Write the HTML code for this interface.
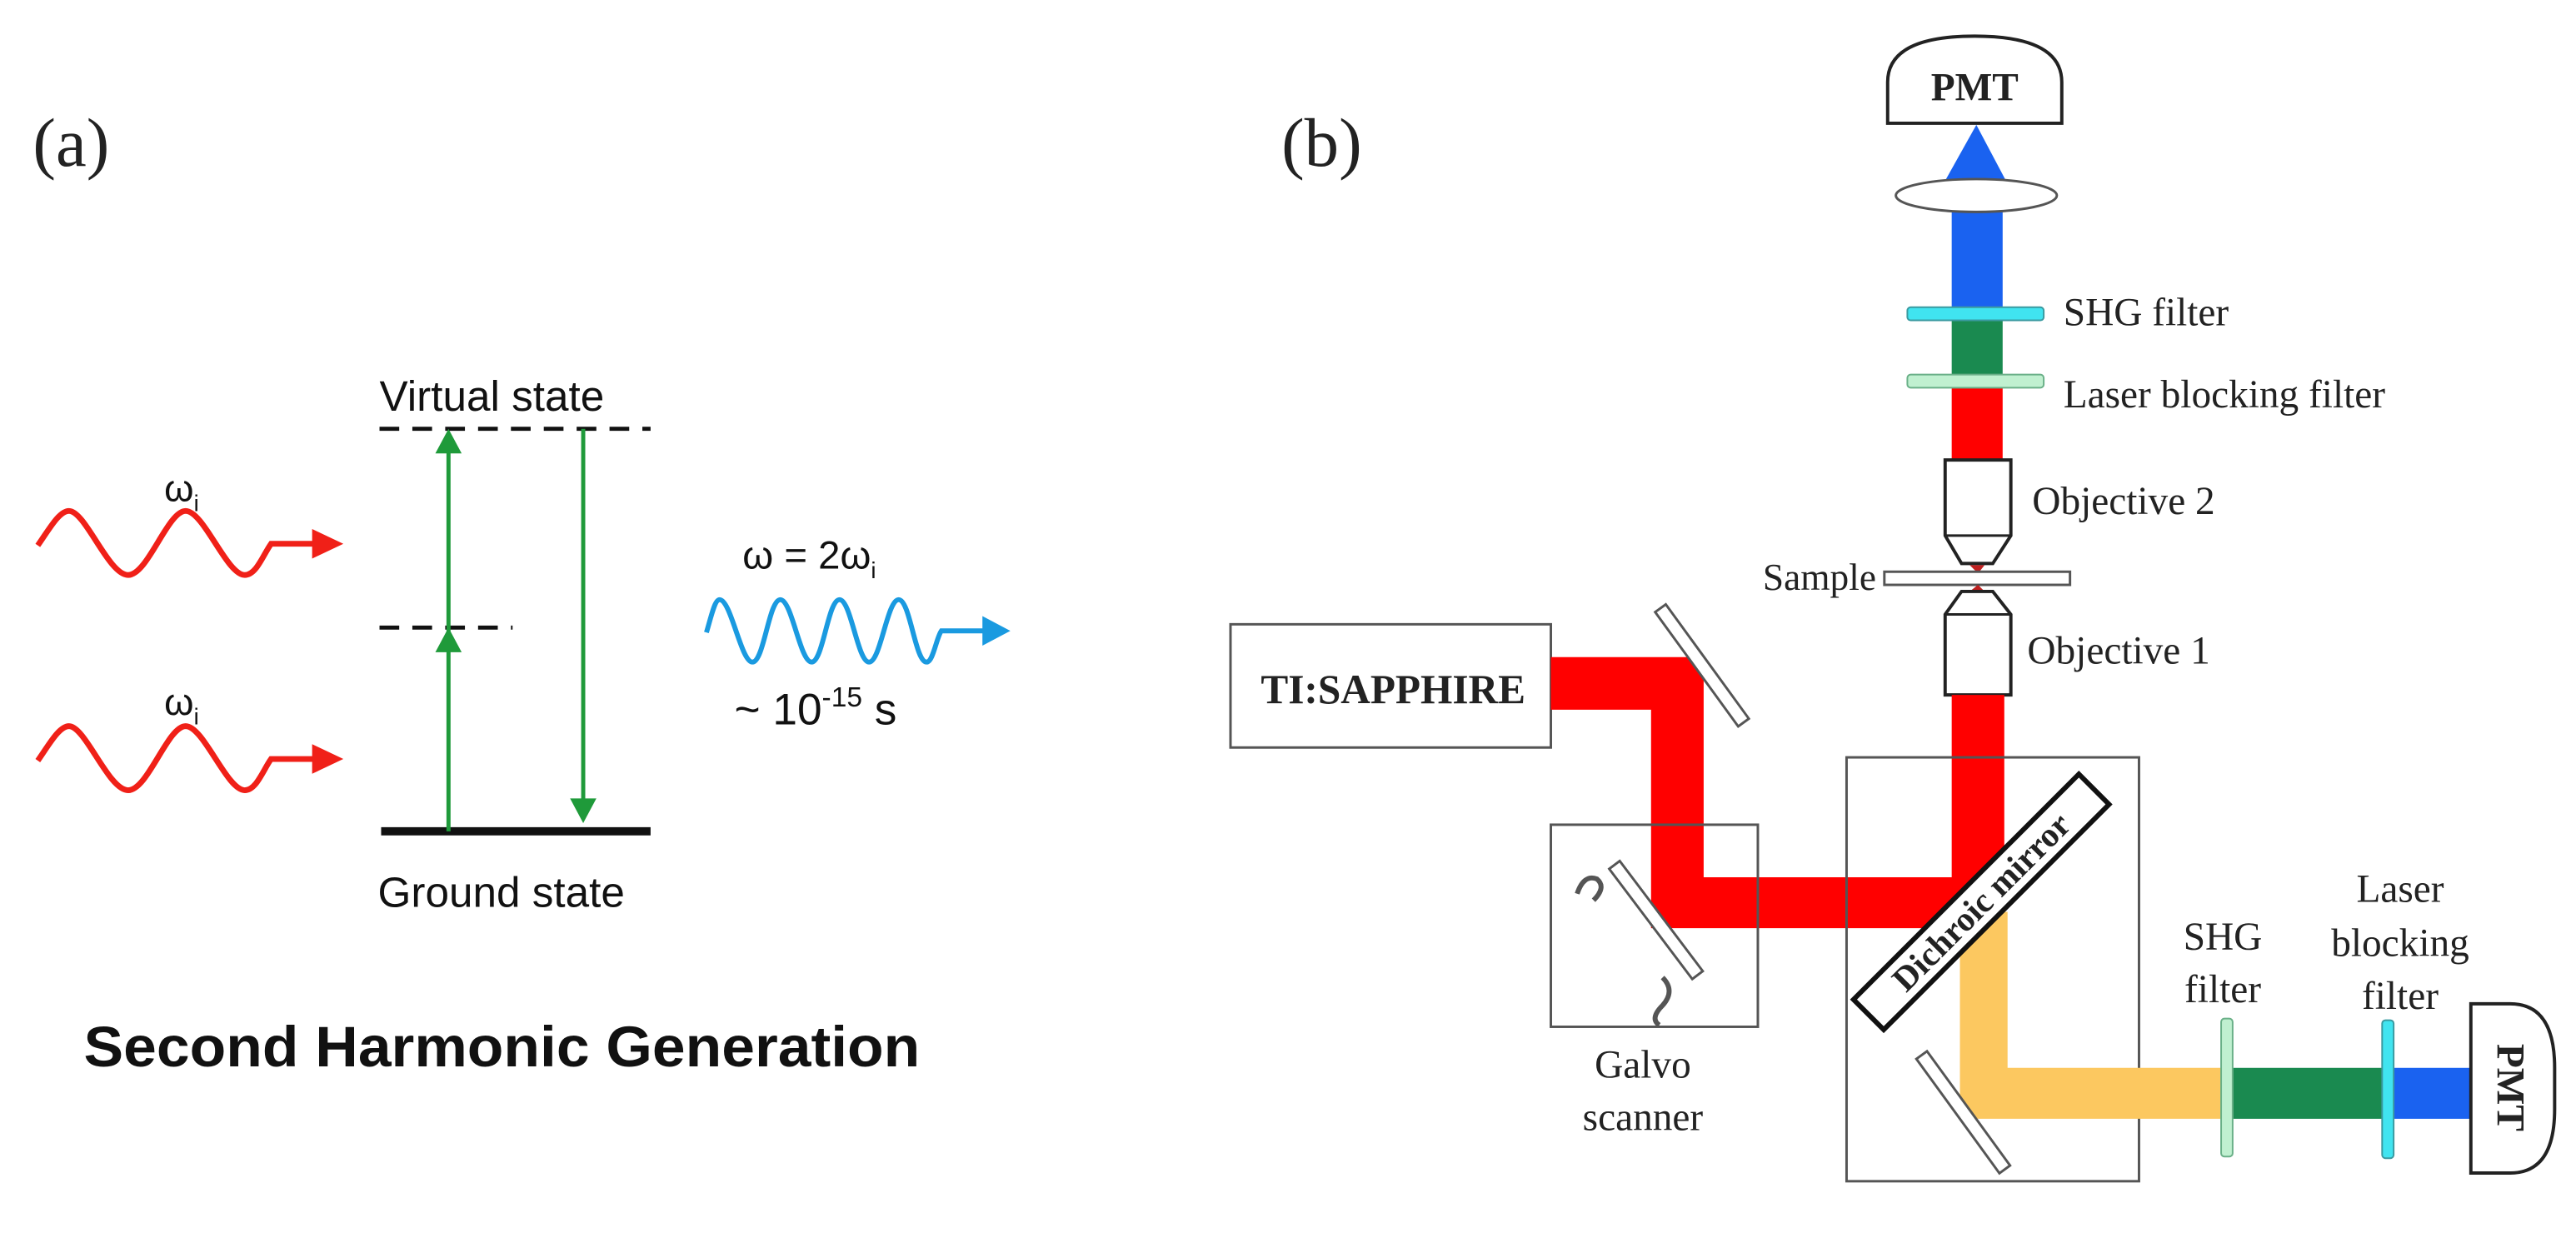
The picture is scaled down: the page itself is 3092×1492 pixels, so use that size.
<!DOCTYPE html>
<html><head><meta charset="utf-8"><style>
html,body{margin:0;padding:0;background:#fff;overflow:hidden;}
svg{display:block;}
.s{font-family:"Liberation Serif",serif;fill:#222;}
.a{font-family:"Liberation Sans",sans-serif;fill:#111;}
</style></head><body>
<svg width="3092" height="1492" viewBox="0 0 1568 756.6" xmlns="http://www.w3.org/2000/svg">
<rect width="1568" height="757" fill="#fff"/>
<!-- (a) -->
<text x="20" y="101" class="s" font-size="42">(a)</text>
<text x="231" y="250" class="a" font-size="26">Virtual state</text>
<line x1="231" y1="261" x2="396" y2="261" stroke="#111" stroke-width="2.5" stroke-dasharray="12,8"/>
<line x1="231" y1="382" x2="312" y2="382" stroke="#111" stroke-width="2.5" stroke-dasharray="12,8"/>
<line x1="232" y1="506" x2="396" y2="506" stroke="#111" stroke-width="5"/>
<text x="230" y="552" class="a" font-size="26">Ground state</text>
<line x1="273" y1="506" x2="273" y2="266" stroke="#1f9a3a" stroke-width="2.5"/>
<path d="M265,276 L273,261 L281,276z" fill="#1f9a3a"/>
<path d="M265,397 L273,382 L281,397z" fill="#1f9a3a"/>
<line x1="355" y1="261" x2="355" y2="490" stroke="#1f9a3a" stroke-width="2.5"/>
<path d="M347,486 L355,501 L363,486z" fill="#1f9a3a"/>
<!-- red waves -->
<g fill="none" stroke="#f02018" stroke-width="3.5">
<path d="M23,332 C30,322 36,311 42,311 C52,311 66,350 78,350 C90,350 102,311 113,311 C124,311 138,350 149,350 C156,350 160,338 165,331 L195,331"/>
<path d="M23,463 C30,453 36,442 42,442 C52,442 66,481 78,481 C90,481 102,442 113,442 C124,442 138,481 149,481 C156,481 160,469 165,462 L195,462"/>
</g>
<path d="M190,322 L209,331 L190,340z" fill="#f02018"/>
<path d="M190,453 L209,462 L190,471z" fill="#f02018"/>
<text x="100" y="305" class="a" font-size="23">ω<tspan font-size="14" dy="6">i</tspan></text>
<text x="100" y="435" class="a" font-size="23">ω<tspan font-size="14" dy="6">i</tspan></text>
<!-- blue wave -->
<path d="M430,385 C433,375 435,365 438,365 C445,365 451,403 458,403 C465,403 468,365 475,365 C482,365 487,403 494,403 C501,403 504,365 511,365 C518,365 522,403 529,403 C536,403 540,365 547,365 C554,365 557,403 564,403 C568,403 570,388 573,384 L602,384" fill="none" stroke="#1a9ae0" stroke-width="3"/>
<path d="M598,375 L615,384 L598,393z" fill="#1a9ae0"/>
<text x="452" y="346" class="a" font-size="24">ω = 2ω<tspan font-size="14" dy="6">i</tspan></text>
<text x="447" y="441" class="a" font-size="27">~ 10<tspan font-size="17" dy="-11">-15</tspan><tspan dy="11"> s</tspan></text>
<text x="51" y="649" class="a" font-size="35" font-weight="bold" textLength="509" lengthAdjust="spacingAndGlyphs">Second Harmonic Generation</text>

<!-- (b) -->
<text x="780" y="101" class="s" font-size="42">(b)</text>
<!-- top PMT -->
<path d="M1149,75 L1149,50 Q1149,22 1202,22 Q1255,22 1255,50 L1255,75 Z" fill="#fff" stroke="#222" stroke-width="2"/>
<text x="1202" y="61" class="s" font-size="24" font-weight="bold" text-anchor="middle">PMT</text>
<!-- beam vertical -->
<path d="M1184,110 L1203,76 L1221,110z" fill="#1a62f0"/>
<rect x="1188" y="119" width="31" height="69" fill="#1a62f0"/>
<ellipse cx="1203" cy="119" rx="49" ry="10" fill="#fff" stroke="#555" stroke-width="1.5"/>
<rect x="1188" y="195" width="31" height="34" fill="#1a8a50"/>
<rect x="1188" y="235" width="31" height="46" fill="#ff0000"/>
<rect x="1161" y="187" width="83" height="8" rx="2" fill="#40e4f0" stroke="#3a9aa0" stroke-width="1"/>
<rect x="1161" y="228" width="83" height="8" rx="2" fill="#c0f0d0" stroke="#6ab088" stroke-width="1"/>
<text x="1256" y="198" class="s" font-size="24">SHG filter</text>
<text x="1256" y="248" class="s" font-size="24">Laser blocking filter</text>
<!-- objective 2 -->
<path d="M1184,280 L1224,280 L1224,326 L1213,343 L1194,343 L1184,326 Z" fill="#fff" stroke="#222" stroke-width="2"/>
<line x1="1184" y1="326" x2="1224" y2="326" stroke="#222" stroke-width="1.5"/>
<path d="M1199,344 L1208,344 L1204,349z" fill="#c02020"/>
<text x="1237" y="313" class="s" font-size="24">Objective 2</text>
<rect x="1147" y="348" width="113" height="8" fill="#fff" stroke="#555" stroke-width="1.5"/>
<text x="1142" y="359" class="s" font-size="23" text-anchor="end">Sample</text>
<!-- objective 1 -->
<path d="M1204,356 L1208,360 L1199,360z" fill="#c02020"/>
<path d="M1194,360 L1213,360 L1224,374 L1224,423 L1184,423 L1184,374 Z" fill="#fff" stroke="#222" stroke-width="2"/>
<line x1="1184" y1="374" x2="1224" y2="374" stroke="#222" stroke-width="1.5"/>
<text x="1234" y="404" class="s" font-size="24">Objective  1</text>
<rect x="1188" y="423" width="32" height="130" fill="#ff0000"/>
<!-- TI:SAPPHIRE -->
<rect x="749" y="380" width="195" height="75" fill="#fff" stroke="#555" stroke-width="1.5"/>
<text x="848" y="428" class="s" font-size="25" font-weight="bold" text-anchor="middle">TI:SAPPHIRE</text>
<!-- red path -->
<path d="M944,400 L1037,400 L1037,534 L1220,534 L1220,565 L1005,565 L1005,432 L944,432 Z" fill="#ff0000"/>
<g transform="translate(1036,405) rotate(54)"><rect x="-43" y="-4" width="86" height="8" fill="#fff" stroke="#555" stroke-width="1.5"/></g>
<!-- galvo box -->
<rect x="944" y="502" width="126" height="123" fill="none" stroke="#555" stroke-width="1.5"/>
<g transform="translate(1008,560) rotate(53)"><rect x="-42" y="-4" width="84" height="8" fill="#fff" stroke="#555" stroke-width="1.5"/></g>
<path d="M960,544 Q964,532 972,535 Q978,540 970,548" fill="none" stroke="#555" stroke-width="3"/>
<path d="M1012,595 Q1020,603 1012,612 Q1004,620 1010,624" fill="none" stroke="#555" stroke-width="3"/>
<text x="1000" y="656" class="s" font-size="24" text-anchor="middle">Galvo</text>
<text x="1000" y="688" class="s" font-size="24" text-anchor="middle">scanner</text>
<!-- dichroic box -->
<rect x="1124" y="461" width="178" height="258" fill="none" stroke="#555" stroke-width="1.5"/>
<!-- orange beam -->
<path d="M1193,555 L1222,555 L1222,650 L1354,650 L1354,681 L1193,681 Z" fill="#fcc860"/>
<g transform="translate(1195,677) rotate(54)"><rect x="-43" y="-4" width="86" height="8" fill="#fff" stroke="#555" stroke-width="1.5"/></g>
<g transform="translate(1206,549) rotate(-45)"><rect x="-97" y="-13" width="194" height="26" fill="#fff" stroke="#111" stroke-width="3"/>
<text x="0" y="7" class="s" font-size="21" font-weight="bold" text-anchor="middle" fill="#111">Dichroic mirror</text></g>
<!-- horizontal output -->
<rect x="1354" y="650" width="99" height="31" fill="#1a8a50"/>
<rect x="1453" y="650" width="52" height="31" fill="#1a62f0"/>
<rect x="1352" y="620" width="7" height="84" rx="2" fill="#c0f0d0" stroke="#6ab088" stroke-width="1"/>
<rect x="1450" y="621" width="7" height="84" rx="2" fill="#40e4f0" stroke="#3a9aa0" stroke-width="1"/>
<text x="1353" y="578" class="s" font-size="24" text-anchor="middle">SHG</text>
<text x="1353" y="610" class="s" font-size="24" text-anchor="middle">filter</text>
<text x="1461" y="549" class="s" font-size="24" text-anchor="middle">Laser</text>
<text x="1461" y="582" class="s" font-size="24" text-anchor="middle">blocking</text>
<text x="1461" y="614" class="s" font-size="24" text-anchor="middle">filter</text>
<!-- right PMT -->
<path d="M1504,611 L1528,611 Q1555,611 1555,650 L1555,675 Q1555,714 1528,714 L1504,714 Z" fill="#fff" stroke="#222" stroke-width="2"/>
<text x="0" y="0" class="s" font-size="24" font-weight="bold" text-anchor="middle" transform="translate(1520,662) rotate(90)">PMT</text>
</svg>
</body></html>
